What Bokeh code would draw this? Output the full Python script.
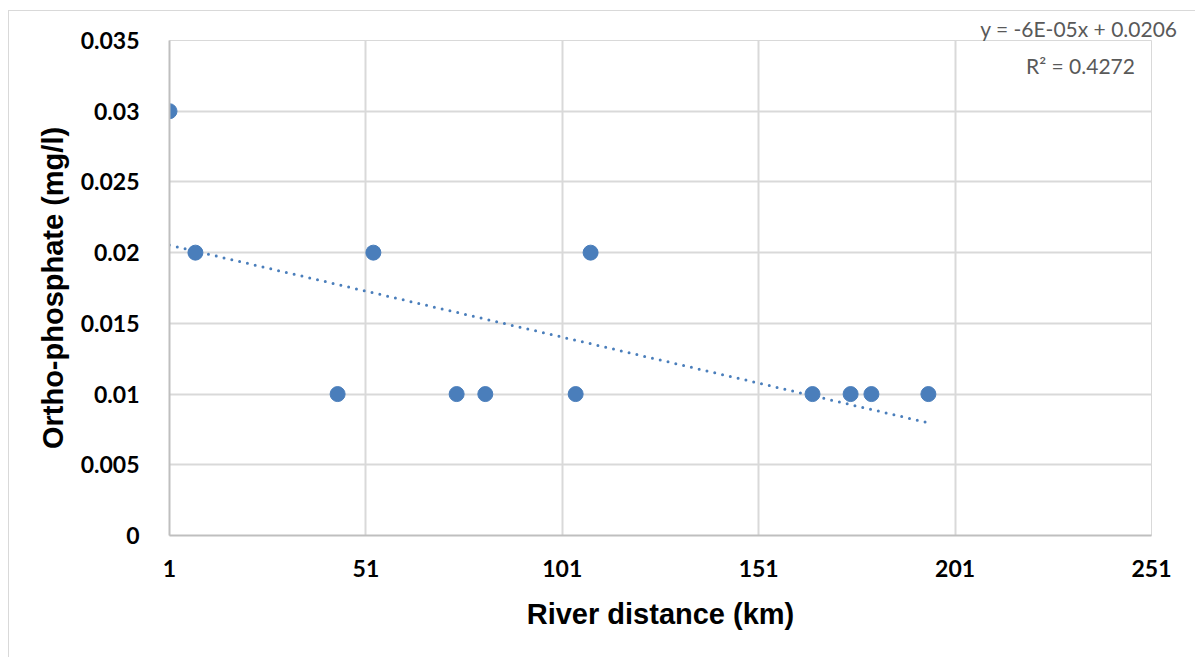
import numpy as np
from bokeh.plotting import figure
from bokeh.models import ColumnDataSource, FixedTicker, Label, Range1d
from bokeh.embed import file_html
from bokeh.resources import INLINE

# River distance (km) and ortho-phosphate (mg/l)
distance = [1, 7.6, 43.8, 52.9, 74.1, 81.4, 104.4, 108.2, 164.7, 174.4, 179.7, 194.2]
phosphate = [0.03, 0.02, 0.01, 0.02, 0.01, 0.01, 0.01, 0.02, 0.01, 0.01, 0.01, 0.01]
x_ticks = [1, 51, 101, 151, 201, 251]
y_ticks = [0, 0.005, 0.01, 0.015, 0.02, 0.025, 0.03, 0.035]
y_tick_labels = ["0", "0.005", "0.01", "0.015", "0.02", "0.025", "0.03", "0.035"]
equation_text = "y = -6E-05x + 0.0206"
r2_text = "R² = 0.4272"

BLUE = "#4a7ebb"
GRID = "#d9d9d9"

p = figure(width=1187, height=647, output_backend="svg", toolbar_location=None,
           x_range=Range1d(1, 251), y_range=Range1d(0, 0.035),
           min_border_left=160, min_border_right=45, min_border_top=29,
           min_border_bottom=123)
p.margin = (10, 0, 0, 8)
p.styles = {"border-left": "1px solid #d9d9d9", "border-top": "1px solid #d9d9d9"}
p.outline_line_color = GRID

# trendline by least squares
slope, intercept = np.polyfit(distance, phosphate, 1)
tx = [min(distance), max(distance)]
ty = [slope * v + intercept for v in tx]
p.line(tx, ty, line_color=BLUE, line_width=3, line_dash="0 8", line_cap="round")

src = ColumnDataSource(dict(x=distance, y=phosphate))
p.scatter("x", "y", source=src, size=15, fill_color=BLUE, line_color=BLUE)

p.xaxis.ticker = FixedTicker(ticks=x_ticks)
p.yaxis.ticker = FixedTicker(ticks=y_ticks)
p.yaxis.major_label_overrides = {t: l for t, l in zip(y_ticks, y_tick_labels)}
p.xaxis.major_label_overrides = {t: str(t) for t in x_ticks}

for ax in (p.xaxis, p.yaxis):
    ax.axis_line_color = "#bfbfbf"
    ax.axis_line_width = 2
    ax.major_tick_line_color = None
    ax.minor_tick_line_color = None
    ax.major_label_text_font = "Lato"
    ax.major_label_text_font_style = "bold"
    ax.major_label_text_font_size = "23px"
    ax.major_label_text_color = "#000000"
    ax.axis_label_text_font = "Liberation Sans"
    ax.axis_label_text_font_style = "bold"
    ax.axis_label_text_font_size = "29px"
    ax.axis_label_text_color = "#000000"

p.xaxis.axis_label = "River distance (km)"
p.yaxis.axis_label = "Ortho-phosphate (mg/l)"
p.yaxis.major_label_standoff = 24
p.xaxis.major_label_standoff = 18
p.xaxis.axis_label_standoff = 18
p.yaxis.axis_label_standoff = 9

p.xgrid.grid_line_color = GRID
p.ygrid.grid_line_color = GRID
p.xgrid.grid_line_width = 2
p.ygrid.grid_line_width = 2

# trendline equation (first line as title so it can sit above the frame)
p.title.text = equation_text
p.title.align = "right"
p.title.offset = -26
p.title.standoff = 0
p.title.text_font = "Lato"
p.title.text_font_style = "normal"
p.title.text_font_size = "21px"
p.title.text_color = "#595959"

p.add_layout(Label(x=1070, y=53, x_units="canvas", y_units="canvas",
                   text=r2_text, text_align="center",
                   text_baseline="middle", text_font="Lato", text_font_size="21px",
                   text_color="#595959"))

open("out.html", "w").write(file_html(p, INLINE))
